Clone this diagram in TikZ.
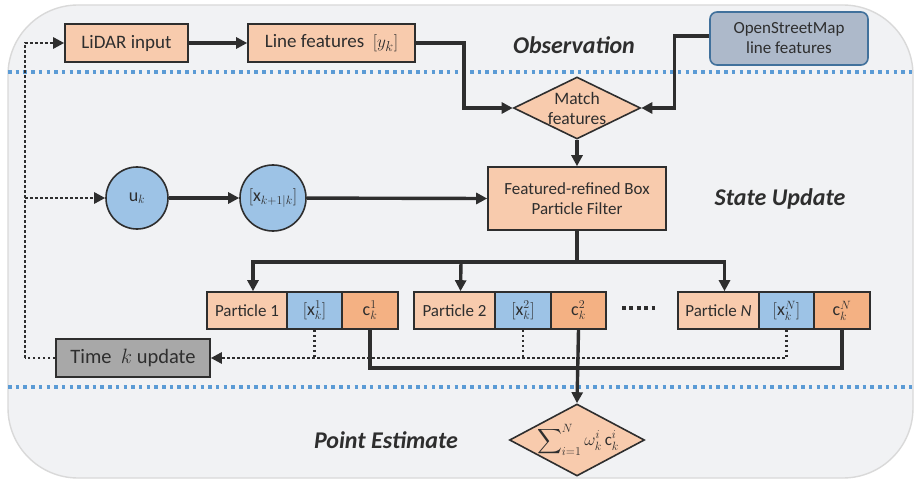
\documentclass[tikz,border=0pt]{standalone}
\usepackage{exscale}
\usepackage{fontspec}
\setmainfont{Carlito}
\usetikzlibrary{shapes.geometric,arrows.meta,calc}

\definecolor{bgfill}{HTML}{F1F2F4}
\definecolor{bgline}{HTML}{D9D9D9}
\definecolor{sepblue}{HTML}{5B9BD5}
\definecolor{peach}{HTML}{F8CBAD}
\definecolor{deeppeach}{HTML}{F4B183}
\definecolor{lightblue}{HTML}{9DC3E6}
\definecolor{osmfill}{HTML}{ADB9CA}
\definecolor{osmline}{HTML}{41719C}
\definecolor{graybox}{HTML}{A8A8A8}
\definecolor{ink}{HTML}{2E2E2E}

\tikzset{
  boxbase/.style={draw=ink, line width=1.6pt, inner sep=0pt, text=ink},
  peachbox/.style={boxbase, rectangle, fill=peach},
  cbox/.style={boxbase, rectangle, fill=deeppeach, minimum height=37pt},
  xbox/.style={boxbase, rectangle, fill=lightblue, minimum height=37pt},
  partbox/.style={peachbox, minimum height=37pt, font=\fontsize{17}{19}\selectfont},
  statecirc/.style={boxbase, circle, fill=lightblue},
  decision/.style={boxbase, diamond, fill=peach},
  conn/.style={draw=ink, line width=3.4pt, -{Triangle[length=11pt,width=11pt]}},
  plainconn/.style={draw=ink, line width=3.4pt},
  dotconn/.style={draw=ink, line width=2.6pt, dash pattern=on 2.6pt off 2.4pt, -{Triangle[length=11pt,width=11pt]}},
  dotline/.style={draw=ink, line width=2.6pt, dash pattern=on 2.6pt off 2.4pt},
  separator/.style={draw=sepblue, line width=3.2pt, dash pattern=on 3.5pt off 4.2pt},
  section/.style={font=\fontsize{24}{28}\selectfont\bfseries\itshape, text=ink},
  mathlbl/.style={font=\fontsize{18}{20}\selectfont},
}

\begin{document}
\begin{tikzpicture}[x=1pt, y=-1pt]
\useasboundingbox (0,0) rectangle (915,481);

% panel and section separators
\draw[fill=bgfill, draw=bgline, line width=1.4pt, rounded corners=70pt] (8,5) rectangle (913,478);
\draw[separator] (8,72) -- (915,72);
\draw[separator] (8,387) -- (915,387);

% section titles
\node[section] (obs) at (574,45) {Observation};
\node[section] (stu) at (780,199) {State Update};
\node[section] (pte) at (386,440) {Point Estimate};

% observation row
\node[peachbox, minimum width=123pt, minimum height=38pt, font=\fontsize{19}{22}\selectfont] (lidar) at (126.5,43) {LiDAR input};
\node[peachbox, minimum width=167pt, minimum height=38pt, font=\fontsize{19}{22}\selectfont] (linef) at (331.5,43) {Line features \ $[y_k]$};
\node[boxbase, rectangle, rounded corners=7pt, fill=osmfill, draw=osmline, minimum width=158pt, minimum height=53pt, align=center, font=\fontsize{17}{20}\selectfont] (osm) at (789,38.5) {OpenStreetMap\\line features};

% matching
\node[decision, minimum width=127pt, minimum height=62pt, inner sep=0pt] (match) at (577,108) {};
\node[align=center, text=ink, font=\fontsize{17.5}{20}\selectfont] (matchtxt) at (577,108) {Match\\features};

% filter and states
\node[peachbox, minimum width=178pt, minimum height=63pt, align=center, font=\fontsize{17}{20}\selectfont] (filter) at (577,198.5) {Featured-refined Box\\Particle Filter};
\node[statecirc, minimum size=62pt, mathlbl] (uk) at (137,198) {$\mathrm{u}_k$};
\node[statecirc, minimum size=66pt, mathlbl] (xk) at (273,198) {$[\mathrm{x}_{k+1|k}]$};

% particles
\node[partbox, minimum width=80pt] (p1) at (247,310.5) {Particle 1};
\node[xbox, minimum width=55pt, mathlbl] (x1) at (314.5,310.5) {$[\mathrm{x}_k^1]$};
\node[cbox, minimum width=56pt, mathlbl] (c1) at (370,310.5) {$\mathrm{c}_k^1$};

\node[partbox, minimum width=81pt] (p2) at (454.5,310.5) {Particle 2};
\node[xbox, minimum width=56pt, mathlbl] (x2) at (523,310.5) {$[\mathrm{x}_k^2]$};
\node[cbox, minimum width=55pt, mathlbl] (c2) at (578.5,310.5) {$\mathrm{c}_k^2$};

\node[partbox, minimum width=81pt] (pn) at (718.5,310.5) {Particle \textit{N}};
\node[xbox, minimum width=55pt, mathlbl] (xn) at (786.5,310.5) {$[\mathrm{x}_k^N]$};
\node[cbox, minimum width=56pt, mathlbl] (cn) at (842,310.5) {$\mathrm{c}_k^N$};

% ellipsis between particle groups
\draw[draw=ink, line width=3.8pt, dash pattern=on 3.8pt off 3.6pt] (622,308) -- (658,308);

% time update
\node[boxbase, rectangle, fill=graybox, minimum width=154pt, minimum height=38pt, font=\fontsize{20.5}{24}\selectfont] (time) at (133,358) {Time \ $k$ update};

% point estimate
\node[decision, minimum width=135pt, minimum height=72pt, inner sep=0pt] (sum) at (577,440) {};
\node[text=ink, font=\fontsize{17}{19}\selectfont] (sumtxt) at (578,440) {$\displaystyle\sum\nolimits_{i=1}^{N}\omega_k^i\,\mathrm{c}_k^i$};

% observation flow
\draw[conn] (lidar) -- (linef);
\draw[conn] (linef.east) -- ++(48,0) |- (match.west);
\draw[conn] ($(osm.west)+(0,-2.5)$) -- ++(-35,0) |- (match.east);
\draw[conn] (match.south) -- (filter.north);

% prediction flow
\draw[conn] (uk) -- (xk);
\draw[conn] (xk) -- (filter.west);

% filter to particles
\coordinate (split) at ($(filter.south)+(0,31)$);
\draw[plainconn] (filter.south) -- (split);
\draw[conn] (split) -| ($(p1.north)+(6,0)$);
\draw[conn] (split) -| ($(pn.north)+(6,0)$);
\draw[conn] ($(split)+(-116,0)$) -- ($(p2.north)+(6,0)$);

% weighted sum
\coordinate (cbus) at ($(c1.south)+(0,38)$);
\draw[plainconn] (c1.south) -- (cbus) -| (cn.south);
\draw[conn] (c2.south) -- (sum.north);

% feedback to the next time step
\draw[dotline] (x1.south) -- ++(0,29.5);
\draw[dotline] (x2.south) -- ++(0,29.5);
\draw[dotconn] (xn.south) |- (time.east);
\coordinate (loop) at (25,358);
\draw[dotline] (time.west) -- (loop);
\draw[dotconn] (loop) |- (lidar.west);
\draw[dotconn] (loop |- uk) -- (uk.west);
\end{tikzpicture}
\end{document}
